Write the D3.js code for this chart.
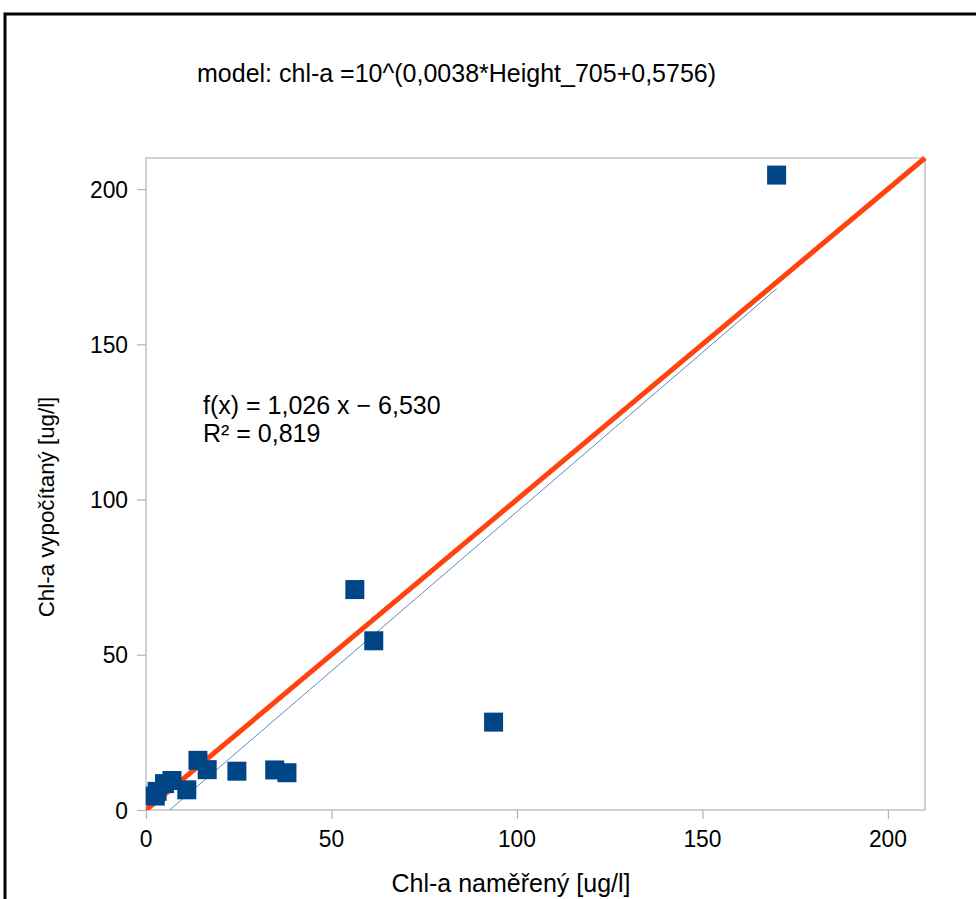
<!DOCTYPE html>
<html>
<head>
<meta charset="utf-8">
<script src="https://cdn.jsdelivr.net/npm/d3@7"></script>
<style>
  html, body { margin: 0; padding: 0; background: #fff; }
  text { font-family: "Liberation Sans", Arial, sans-serif; fill: #000; }
</style>
</head>
<body>
<div id="chart"></div>
<script>
// measured vs computed chlorophyll-a
const measured = [2.5, 3, 5, 7, 11, 14, 16.5, 24.5, 34.7, 38, 56.3, 61.4, 93.7, 170];
const computed = [4.5, 6, 8.5, 9.5, 6.5, 16, 13, 12.5, 12.9, 12, 71, 54.5, 28.3, 204.5];

// 1:1 line
const refX = [0, 210];
const refY = [0, 210];

// linear trend shown in the chart
const trendSlope = 1.026;
const trendIntercept = -6.530;

const xTicks = [0, 50, 100, 150, 200];
const yTicks = [0, 50, 100, 150, 200];

const titleText = "model: chl-a =10^(0,0038*Height_705+0,5756)";
const eqText = "f(x) = 1,026 x \u2212 6,530";
const r2Text = "R\u00b2 = 0,819";
const xLabel = "Chl-a naměřený [ug/l]";
const yLabel = "Chl-a vypočítaný [ug/l]";

const width = 976, height = 899;
const plot = { left: 146, right: 925, top: 158, bottom: 810 };

const svg = d3.select("#chart").append("svg")
    .attr("width", width)
    .attr("height", height);

// outer frame (only top and left edge are inside the picture)
svg.append("rect")
    .attr("x", 5).attr("y", 14)
    .attr("width", width + 20).attr("height", height + 20)
    .attr("fill", "#fff")
    .attr("stroke", "#000")
    .attr("stroke-width", 3);

const x = d3.scaleLinear().domain([0, 210]).range([plot.left, plot.right]);
const y = d3.scaleLinear().domain([0, 210]).range([plot.bottom, plot.top]);

// text helper, sx squeezes the glyphs a little like in the original
function label(txt, tx, ty, anchor, size, sx, rotate) {
    return svg.append("text")
        .attr("transform", `translate(${tx},${ty})` + (rotate ? ` rotate(${rotate})` : "") + ` scale(${sx},1)`)
        .attr("text-anchor", anchor)
        .style("font-size", size + "px")
        .text(txt);
}

// plot area border
svg.append("rect")
    .attr("x", plot.left).attr("y", plot.top)
    .attr("width", plot.right - plot.left).attr("height", plot.bottom - plot.top)
    .attr("fill", "none")
    .attr("stroke", "#b3b3b3")
    .attr("stroke-width", 1.2);

// axes
const xAxis = svg.append("g")
    .attr("transform", `translate(0,${plot.bottom})`)
    .call(d3.axisBottom(x).tickValues(xTicks).tickSize(9).tickFormat(""));
const yAxis = svg.append("g")
    .attr("transform", `translate(${plot.left},0)`)
    .call(d3.axisLeft(y).tickValues(yTicks).tickSize(9).tickFormat(""));
[xAxis, yAxis].forEach(a => {
    a.select(".domain").remove();
    a.selectAll("line").attr("stroke", "#b3b3b3").attr("stroke-width", 1.2);
});

xTicks.forEach(v => label(v, x(v), 847, "middle", 24, 0.95));
yTicks.forEach(v => label(v, 128, y(v) + 8.5, "end", 24, 0.95));

// clip for lines
svg.append("clipPath").attr("id", "clip")
    .append("rect")
    .attr("x", plot.left).attr("y", plot.top - 3)
    .attr("width", plot.right - plot.left + 3).attr("height", plot.bottom - plot.top + 3);

// 1:1 line
const line = d3.line().x(d => x(d[0])).y(d => y(d[1]));
svg.append("path")
    .datum(d3.zip(refX, refY))
    .attr("clip-path", "url(#clip)")
    .attr("fill", "none")
    .attr("stroke", "#ff420e")
    .attr("stroke-width", 5)
    .attr("d", line);

// trend line over the data range
const xMin = d3.min(measured), xMax = d3.max(measured);
svg.append("path")
    .datum([xMin, xMax].map(v => [v, trendSlope * v + trendIntercept]))
    .attr("clip-path", "url(#clip)")
    .attr("fill", "none")
    .attr("stroke", "#5a8cc0")
    .attr("stroke-width", 1)
    .attr("d", line);

// data points
const sq = 19;
svg.append("g").selectAll("rect")
    .data(d3.zip(measured, computed))
    .enter().append("rect")
    .attr("x", d => x(d[0]) - sq / 2)
    .attr("y", d => y(d[1]) - sq / 2)
    .attr("width", sq).attr("height", sq)
    .attr("fill", "#004586");

// texts
label(titleText, 197, 82, "start", 25, 1);
label(eqText, 203, 414, "start", 25, 1);
label(r2Text, 203, 442, "start", 25, 1);
label(xLabel, 511, 892, "middle", 25, 1);
label(yLabel, 54, 507, "middle", 23, 0.97, -90);
</script>
</body>
</html>
